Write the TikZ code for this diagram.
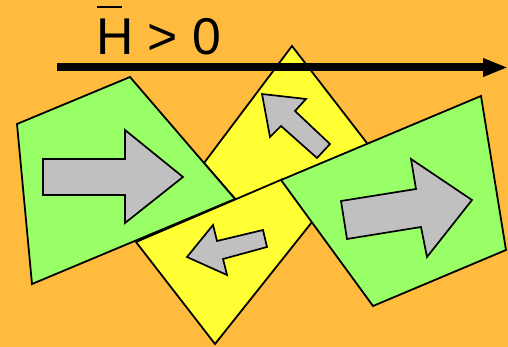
\documentclass[tikz,border=0pt]{standalone}
\usepackage{fontspec}
\setmainfont{Liberation Sans}
\usetikzlibrary{arrows.meta}
\definecolor{bgorange}{RGB}{255,187,62}
\definecolor{tilegreen}{RGB}{153,255,102}
\definecolor{tileyellow}{RGB}{255,255,51}
\definecolor{spingrey}{RGB}{192,192,192}
\newcommand{\barH}{\makebox[0pt][l]{\hspace*{1pt}\raisebox{47pt}{\rule{25pt}{2pt}}}H}

\begin{document}
\begin{tikzpicture}[x=1pt,y=-1pt,
  tile/.style={draw=black,line width=1.8pt,line join=miter},
  spin/.style={draw=black,fill=spingrey,line width=1.7pt,line join=miter}]
\fill [bgorange] (0,0) rectangle (508,347);
\useasboundingbox (0,0) rectangle (508,347);
% yellow tiles
\draw [tile,fill=tileyellow] (292,46) -- (370,147) -- (300,215) -- (250,216) -- (204,163) -- cycle;
\draw [tile,fill=tileyellow] (136,242) -- (215,344) -- (320,212) -- (283,179) -- cycle;
% green tiles
\draw [tile,fill=tilegreen] (17,124) -- (130,77) -- (235,199) -- (32,284) -- cycle;
\draw [tile,fill=tilegreen] (281,180) -- (481,96) -- (506,250) -- (373,306) -- cycle;
% spins
\draw [spin] (43,159) -- (125,159) -- (125,130) -- (183,177) -- (125,223) -- (125,195) -- (43,195) -- cycle;
\draw [spin] (262,94) -- (306,99) -- (295,111) -- (330,144) -- (317,158) -- (281,126) -- (270,137) -- cycle;
\draw [spin] (187,257) -- (213,225) -- (217,241) -- (263,230) -- (267,247) -- (223,259) -- (227,275) -- cycle;
\draw [spin] (341,201) -- (416,189) -- (411,159) -- (472,200) -- (427,257) -- (421,227) -- (347,239) -- cycle;
% field
\coordinate (field start) at (57,67.5);
\coordinate (field end) at (508,67.5);
\draw [line width=8pt,-{Triangle[length=25pt,width=17pt]}] (field start) -- (field end);
\node (field label) [anchor=base west,inner sep=0pt,font=\fontsize{51.7}{60}\selectfont] at (96,55) {\barH{} > 0};
\end{tikzpicture}
\end{document}
